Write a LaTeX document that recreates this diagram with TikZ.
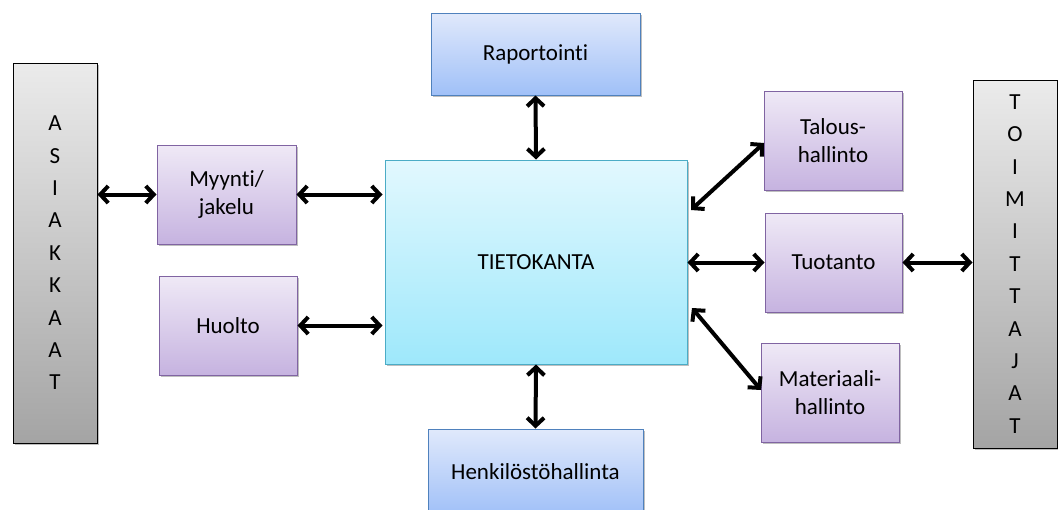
\documentclass[tikz,border=0pt]{standalone}
\usepackage{fontspec}
\setmainfont[Ligatures={NoCommon}]{Carlito}
\usetikzlibrary{arrows.meta,shadows}
\definecolor{grayTop}{HTML}{EBEBEB}
\definecolor{grayBot}{HTML}{A4A4A4}
\definecolor{purTop}{HTML}{EFE9F6}
\definecolor{purBot}{HTML}{C6B3E0}
\definecolor{purLine}{HTML}{8064A2}
\definecolor{bluTop}{HTML}{E0E9FB}
\definecolor{bluBot}{HTML}{A0C0F8}
\definecolor{bluLine}{HTML}{4F81BD}
\definecolor{cyTop}{HTML}{E2F8FE}
\definecolor{cyBot}{HTML}{9EE8FB}
\definecolor{cyLine}{HTML}{4BACC6}
\tikzset{
  box/.style={rectangle, inner sep=0pt, align=center, line width=1pt,
    font=\fontsize{23}{27.5}\selectfont,
    drop shadow={shadow xshift=1.5pt, shadow yshift=-2pt, opacity=0.25, fill=black}},
  sidebox/.style={box, draw=black, top color=grayTop, bottom color=grayBot,
    font=\fontsize{23}{32.4}\selectfont},
  funcbox/.style={box, draw=purLine, top color=purTop, bottom color=purBot},
  bluebox/.style={box, draw=bluLine, top color=bluTop, bottom color=bluBot},
  dbbox/.style={box, draw=cyLine, top color=cyTop, bottom color=cyBot},
  link/.style={line width=4pt, {Straight Barb[length=8pt,width=17pt]}-{Straight Barb[length=8pt,width=17pt]}},
}
\begin{document}
\begin{tikzpicture}[x=1pt,y=-1pt]
\useasboundingbox (0,0) rectangle (1058,509);

% outer parties
\node[sidebox, minimum width=84pt, minimum height=380pt] (asiakkaat) at (55,253)
  {A\\S\\I\\A\\K\\K\\A\\A\\T};
\node[sidebox, minimum width=84pt, minimum height=368pt] (toimittajat) at (1015,264)
  {T\\O\\I\\M\\I\\T\\T\\A\\J\\A\\T};

% central database
\node[dbbox, minimum width=302pt, minimum height=204pt] (tk) at (536,262) {TIETOKANTA};

% reporting and personnel
\node[bluebox, minimum width=209pt, minimum height=82pt] (rap) at (535.5,54) {Raportointi};
\node[bluebox, minimum width=215pt, minimum height=86pt] (henk) at (535.5,472) {Henkilöstöhallinta};

% functions on the left
\node[funcbox, minimum width=139pt, minimum height=99pt] (myynti) at (226.5,194.5) {Myynti/\\jakelu};
\node[funcbox, minimum width=138pt, minimum height=99pt] (huolto) at (228,325.5) {Huolto};

% functions on the right
\node[funcbox, minimum width=138pt, minimum height=99pt] (talous) at (833,140.5) {Talous-\\hallinto};
\node[funcbox, minimum width=137pt, minimum height=99pt] (tuotanto) at (833.5,262.5) {Tuotanto};
\node[funcbox, minimum width=138pt, minimum height=99pt] (materiaali) at (830,392.5) {Materiaali-\\hallinto};

% connector end points on the database border
\coordinate (tkTa) at (691,210);
\coordinate (tkMa) at (692,308);
\coordinate (taW) at (764,143);
\coordinate (maW) at (761,390);

% connectors
\draw[link] (asiakkaat.east |- myynti.west) -- (myynti.west);
\draw[link] (myynti.east) -- ([xshift=-2pt]tk.west |- myynti.east);
\draw[link] (huolto.east) -- ([xshift=-2pt]tk.west |- huolto.east);
\draw[link] (rap.south) -- (tk.north);
\draw[link] (tk.south) -- (henk.north);
\draw[link] (tkTa) -- (taW);
\draw[link] (tk.east |- tuotanto.west) -- (tuotanto.west);
\draw[link] (tkMa) -- (maW);
\draw[link] (tuotanto.east) -- (toimittajat.west |- tuotanto.east);
\end{tikzpicture}
\end{document}
